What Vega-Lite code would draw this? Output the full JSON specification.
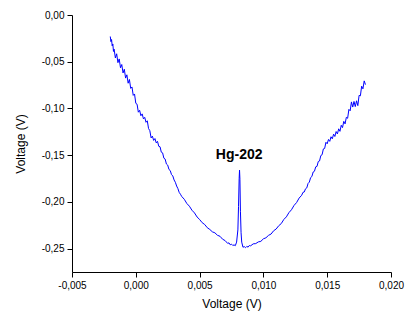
{
  "$schema": "https://vega.github.io/schema/vega-lite/v6.json",
  "autosize": "none",
  "width": 319,
  "height": 257,
  "padding": {"left": 72, "top": 15, "right": 14, "bottom": 43},
  "background": "white",
  "config": {"view": {"stroke": null}, "font": "Liberation Sans"},
  "datasets": {
    "curve": [
      {"x": -0.0020, "y": -0.0230}, {"x": -0.00195, "y": -0.0285}, {"x": -0.0019, "y": -0.0262}, {"x": -0.00185, "y": -0.0330},
      {"x": -0.0018, "y": -0.0310}, {"x": -0.00175, "y": -0.0390}, {"x": -0.0017, "y": -0.0365}, {"x": -0.0016, "y": -0.0460},
      {"x": -0.0015, "y": -0.0415}, {"x": -0.0014, "y": -0.0510}, {"x": -0.0013, "y": -0.0470}, {"x": -0.0012, "y": -0.0565},
      {"x": -0.0011, "y": -0.0530}, {"x": -0.0010, "y": -0.0620}, {"x": -0.0009, "y": -0.0580}, {"x": -0.0008, "y": -0.0675},
      {"x": -0.0007, "y": -0.0640}, {"x": -0.0006, "y": -0.0730}, {"x": -0.0005, "y": -0.0690}, {"x": -0.0004, "y": -0.0785},
      {"x": -0.0003, "y": -0.0770}, {"x": -0.0002, "y": -0.0860}, {"x": -0.0001, "y": -0.0845}, {"x": 0.0000, "y": -0.0945},
      {"x": 0.0001, "y": -0.0955}, {"x": 0.0002, "y": -0.1040}, {"x": 0.0003, "y": -0.1020}, {"x": 0.0004, "y": -0.1078},
      {"x": 0.0005, "y": -0.1058}, {"x": 0.0006, "y": -0.1112}, {"x": 0.0007, "y": -0.1095}, {"x": 0.0008, "y": -0.1148},
      {"x": 0.0009, "y": -0.1132}, {"x": 0.0010, "y": -0.1215}, {"x": 0.0011, "y": -0.1238}, {"x": 0.0012, "y": -0.1315},
      {"x": 0.0013, "y": -0.1296}, {"x": 0.0014, "y": -0.1342}, {"x": 0.0015, "y": -0.1322}, {"x": 0.0016, "y": -0.1368},
      {"x": 0.0017, "y": -0.1352}, {"x": 0.0018, "y": -0.1405}, {"x": 0.0019, "y": -0.1410}, {"x": 0.0020, "y": -0.1468},
      {"x": 0.0021, "y": -0.1475}, {"x": 0.0022, "y": -0.1532}, {"x": 0.0023, "y": -0.1542}, {"x": 0.0024, "y": -0.1595},
      {"x": 0.0025, "y": -0.1606}, {"x": 0.0026, "y": -0.1653}, {"x": 0.0027, "y": -0.1665}, {"x": 0.0028, "y": -0.1708},
      {"x": 0.0029, "y": -0.1722}, {"x": 0.0030, "y": -0.1765}, {"x": 0.0031, "y": -0.1790}, {"x": 0.0032, "y": -0.1830},
      {"x": 0.0033, "y": -0.1858}, {"x": 0.0034, "y": -0.1898}, {"x": 0.0035, "y": -0.1918}, {"x": 0.0036, "y": -0.1942},
      {"x": 0.0038, "y": -0.1972}, {"x": 0.0040, "y": -0.2017}, {"x": 0.0042, "y": -0.2046}, {"x": 0.0044, "y": -0.2089},
      {"x": 0.0046, "y": -0.2118}, {"x": 0.0048, "y": -0.2161}, {"x": 0.0050, "y": -0.2188}, {"x": 0.0052, "y": -0.2222},
      {"x": 0.0054, "y": -0.2242}, {"x": 0.0056, "y": -0.2276}, {"x": 0.0058, "y": -0.2295}, {"x": 0.0060, "y": -0.2320},
      {"x": 0.0062, "y": -0.2331}, {"x": 0.0064, "y": -0.2357}, {"x": 0.0066, "y": -0.2368}, {"x": 0.0068, "y": -0.2399},
      {"x": 0.0070, "y": -0.2414}, {"x": 0.0072, "y": -0.2444}, {"x": 0.0073, "y": -0.2438}, {"x": 0.0074, "y": -0.2459},
      {"x": 0.0075, "y": -0.2452}, {"x": 0.0076, "y": -0.2466}, {"x": 0.0077, "y": -0.2460}, {"x": 0.0078, "y": -0.2468},
      {"x": 0.0079, "y": -0.2430}, {"x": 0.0080, "y": -0.2300}, {"x": 0.00805, "y": -0.2050}, {"x": 0.0081, "y": -0.1750},
      {"x": 0.00813, "y": -0.1660}, {"x": 0.00816, "y": -0.1760}, {"x": 0.0082, "y": -0.2100}, {"x": 0.00825, "y": -0.2330},
      {"x": 0.0083, "y": -0.2430}, {"x": 0.0084, "y": -0.2485}, {"x": 0.0085, "y": -0.2478}, {"x": 0.0086, "y": -0.2490},
      {"x": 0.0087, "y": -0.2476}, {"x": 0.0088, "y": -0.2484}, {"x": 0.0089, "y": -0.2466}, {"x": 0.0090, "y": -0.2470},
      {"x": 0.0092, "y": -0.2449}, {"x": 0.0094, "y": -0.2446}, {"x": 0.0096, "y": -0.2428}, {"x": 0.0098, "y": -0.2422},
      {"x": 0.0100, "y": -0.2395}, {"x": 0.0102, "y": -0.2384}, {"x": 0.0104, "y": -0.2358}, {"x": 0.0106, "y": -0.2344},
      {"x": 0.0108, "y": -0.2309}, {"x": 0.0110, "y": -0.2290}, {"x": 0.0112, "y": -0.2255}, {"x": 0.0114, "y": -0.2232},
      {"x": 0.0116, "y": -0.2188}, {"x": 0.0118, "y": -0.2160}, {"x": 0.0120, "y": -0.2115}, {"x": 0.0122, "y": -0.2084},
      {"x": 0.0124, "y": -0.2038}, {"x": 0.0126, "y": -0.2007}, {"x": 0.0128, "y": -0.1959}, {"x": 0.0130, "y": -0.1929},
      {"x": 0.0131, "y": -0.1898}, {"x": 0.0132, "y": -0.1894}, {"x": 0.0133, "y": -0.1860}, {"x": 0.0134, "y": -0.1850},
      {"x": 0.0135, "y": -0.1803}, {"x": 0.0136, "y": -0.1788}, {"x": 0.0137, "y": -0.1740}, {"x": 0.0138, "y": -0.1728},
      {"x": 0.0139, "y": -0.1680}, {"x": 0.0140, "y": -0.1672}, {"x": 0.0141, "y": -0.1625}, {"x": 0.0142, "y": -0.1620},
      {"x": 0.0143, "y": -0.1568}, {"x": 0.0144, "y": -0.1562}, {"x": 0.0145, "y": -0.1504}, {"x": 0.0146, "y": -0.1495},
      {"x": 0.0147, "y": -0.1433}, {"x": 0.0148, "y": -0.1428}, {"x": 0.0149, "y": -0.1362}, {"x": 0.0150, "y": -0.1378},
      {"x": 0.0151, "y": -0.1332}, {"x": 0.0152, "y": -0.1352}, {"x": 0.0153, "y": -0.1303}, {"x": 0.0154, "y": -0.1325},
      {"x": 0.0155, "y": -0.1275}, {"x": 0.0156, "y": -0.1300}, {"x": 0.0157, "y": -0.1247}, {"x": 0.0158, "y": -0.1273},
      {"x": 0.0159, "y": -0.1218}, {"x": 0.0160, "y": -0.1245}, {"x": 0.0161, "y": -0.1180}, {"x": 0.0162, "y": -0.1205},
      {"x": 0.0163, "y": -0.1138}, {"x": 0.0164, "y": -0.1165}, {"x": 0.0165, "y": -0.1095}, {"x": 0.0166, "y": -0.1105},
      {"x": 0.0167, "y": -0.1010}, {"x": 0.0168, "y": -0.1025}, {"x": 0.0169, "y": -0.0930}, {"x": 0.0170, "y": -0.0985},
      {"x": 0.0171, "y": -0.0925}, {"x": 0.0172, "y": -0.0980}, {"x": 0.0173, "y": -0.0918}, {"x": 0.0174, "y": -0.0970},
      {"x": 0.0175, "y": -0.0860}, {"x": 0.0176, "y": -0.0865}, {"x": 0.0177, "y": -0.0762}, {"x": 0.0178, "y": -0.0790},
      {"x": 0.0179, "y": -0.0705}, {"x": 0.0180, "y": -0.0745}
    ],
    "labels": [{"label": "Hg-202", "x": 0.0081, "y": -0.1496}]
  },
  "layer": [
    {
      "data": {"name": "curve"},
      "mark": {"type": "line", "color": "#0000ff", "strokeWidth": 1, "clip": true},
      "encoding": {
        "x": {
          "field": "x", "type": "quantitative",
          "scale": {"domain": [-0.005, 0.02], "nice": false, "zero": false},
          "axis": {
            "title": "Voltage (V)",
            "values": [-0.005, -0.0025, 0, 0.0025, 0.005, 0.0075, 0.01, 0.0125, 0.015, 0.0175, 0.02],
            "labelExpr": "abs(datum.value/0.005 - round(datum.value/0.005)) > 0.01 ? '' : (datum.value < -1e-9 ? '-' : '') + replace(format(abs(datum.value), '.3f'), '.', ',')",
            "tickSize": {"condition": {"test": "abs(datum.value/0.005 - round(datum.value/0.005)) > 0.01", "value": 3}, "value": 5},
            "grid": false,
            "domainColor": "#000000", "domainWidth": 1,
            "tickColor": "#000000", "tickWidth": 1,
            "labelColor": "#000000", "labelFontSize": 10, "labelFont": "Liberation Sans", "labelPadding": 3,
            "labelFlush": false, "labelOverlap": false,
            "titleColor": "#000000", "titleFontSize": 12, "titleFont": "Liberation Sans", "titleFontWeight": "normal", "titlePadding": 8
          }
        },
        "y": {
          "field": "y", "type": "quantitative",
          "scale": {"domain": [-0.275, 0], "nice": false, "zero": false},
          "axis": {
            "title": "Voltage (V)",
            "values": [-0.25, -0.225, -0.2, -0.175, -0.15, -0.125, -0.1, -0.075, -0.05, -0.025, 0],
            "labelExpr": "abs(datum.value/0.05 - round(datum.value/0.05)) > 0.01 ? '' : (datum.value < -1e-9 ? '-' : '') + replace(format(abs(datum.value), '.2f'), '.', ',')",
            "tickSize": {"condition": {"test": "abs(datum.value/0.05 - round(datum.value/0.05)) > 0.01", "value": 3}, "value": 5},
            "grid": false,
            "domainColor": "#000000", "domainWidth": 1,
            "tickColor": "#000000", "tickWidth": 1,
            "labelColor": "#000000", "labelFontSize": 10, "labelFont": "Liberation Sans", "labelPadding": 3,
            "labelFlush": false, "labelOverlap": false,
            "titleColor": "#000000", "titleFontSize": 12, "titleFont": "Liberation Sans", "titleFontWeight": "normal", "titlePadding": 14
          }
        }
      }
    },
    {
      "data": {"name": "labels"},
      "mark": {"type": "text", "font": "Liberation Sans", "fontSize": 14, "fontWeight": "bold", "color": "#000000", "align": "center", "baseline": "middle"},
      "encoding": {
        "x": {"field": "x", "type": "quantitative"},
        "y": {"field": "y", "type": "quantitative"},
        "text": {"field": "label"}
      }
    }
  ]
}
